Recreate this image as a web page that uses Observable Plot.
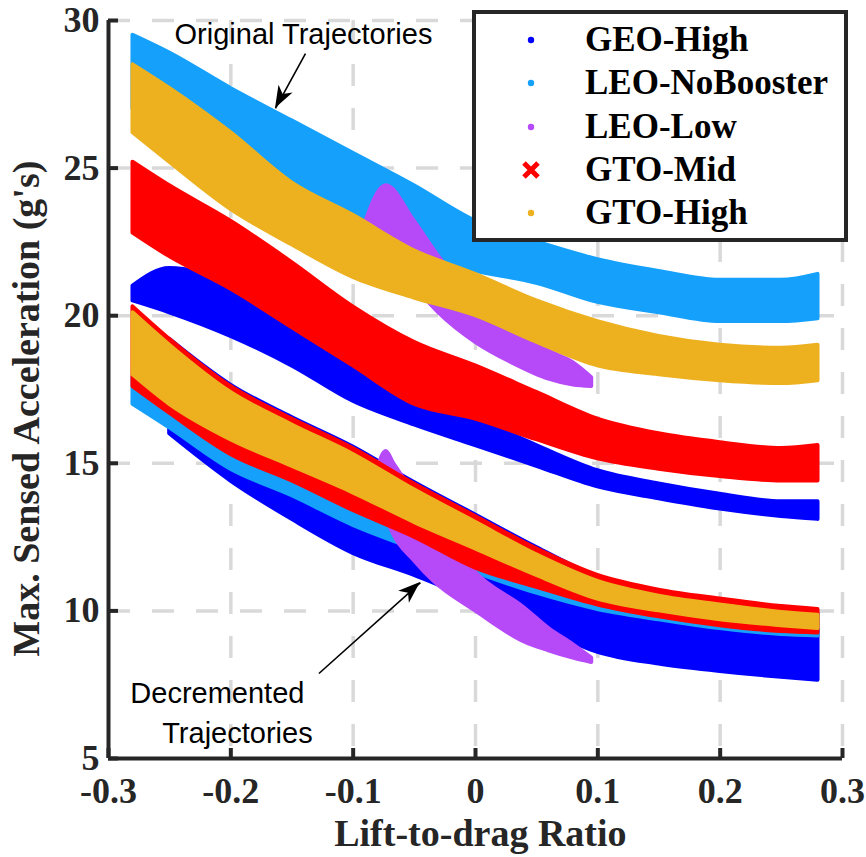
<!DOCTYPE html>
<html><head><meta charset="utf-8">
<script src="https://cdn.jsdelivr.net/npm/d3@7"></script>
<script src="https://cdn.jsdelivr.net/npm/@observablehq/plot@0.6"></script>
<style>
body{margin:0;background:#fff;}
#wrap{position:relative;width:866px;height:857px;overflow:hidden;}
#legend{position:absolute;left:472px;top:10px;width:376px;height:232px;box-sizing:border-box;border:4px solid #262626;background:#fff;
font-family:"Liberation Serif","Times New Roman",serif;font-weight:bold;font-size:35px;color:#000;}
.row{position:absolute;left:0;height:40px;line-height:40px;white-space:nowrap;}
.row svg{position:absolute;left:45px;top:10px;}
.row span{position:absolute;left:109px;top:0;}
</style></head>
<body><div id="wrap"><div id="legend"></div></div>
<script>
// ---------- data ----------
const seriesNames = ["GEO-High", "LEO-NoBooster", "LEO-Low", "GTO-Mid", "GTO-High"];
const seriesColors = ["#0000ff", "#15a1fb", "#b649f8", "#ff0000", "#edb120"];

const xTicks = [-0.3, -0.2, -0.1, 0, 0.1, 0.2, 0.3];
const yTicks = [5, 10, 15, 20, 25, 30];
const xGridLines = [-0.2, -0.1, 0, 0.1, 0.2, 0.3];
const yGridLines = [10, 15, 20, 25, 30];

// common L/D sample positions of the band envelopes
const ld = [-0.28, -0.25, -0.2, -0.15, -0.1, -0.05, 0, 0.05, 0.1, 0.15, 0.2, 0.25, 0.28];

// ----- original trajectories: lower / upper envelope of each point cloud -----
const geoOrigLo = [20.5, 20.1, 19.3, 18.3, 17.1, 16.3, 15.6, 14.9, 14.2, 13.8, 13.45, 13.2, 13.1];
const geoOrigHi = [21.0, 21.6, 21.1, 19.8, 18.4, 17.1, 16.5, 15.6, 14.75, 14.3, 13.95, 13.7, 13.7];
const leoNbOrigLo = [27.0, 26.2, 25.0, 23.6, 22.8, 22.0, 21.5, 21.1, 20.45, 20.1, 19.8, 19.8, 19.9];
const leoNbOrigHi = [29.5, 28.9, 27.7, 26.6, 25.5, 24.4, 23.2, 22.5, 21.9, 21.5, 21.2, 21.2, 21.4];
const gtoMidOrigLo = [22.8, 22.0, 20.9, 19.6, 18.3, 17.0, 16.5, 15.8, 15.15, 14.8, 14.55, 14.4, 14.4];
const gtoMidOrigHi = [25.2, 24.4, 23.2, 21.8, 20.3, 19.1, 18.3, 17.4, 16.5, 16.0, 15.7, 15.5, 15.6];
const gtoHighOrigLo = [26.2, 25.2, 23.6, 22.4, 21.3, 20.6, 20.0, 19.1, 18.3, 18.0, 17.8, 17.7, 17.8];
const gtoHighOrigHi = [28.5, 27.7, 26.2, 24.5, 23.4, 22.2, 21.4, 20.5, 19.8, 19.3, 19.0, 18.9, 19.0];

const ldLeoLowOrig = [-0.092, -0.073, -0.05, -0.03, 0, 0.03, 0.06, 0.08, 0.095];
const leoLowOrigLo = [22.7, 22.0, 21.0, 20.1, 19.1, 18.4, 17.85, 17.65, 17.6];
const leoLowOrigHi = [22.9, 24.4, 23.2, 22.0, 20.6, 19.6, 18.8, 18.4, 17.9];

// ----- decremented trajectories -----
const ldGeoDec = [-0.25, -0.2, -0.15, -0.1, -0.05, 0, 0.05, 0.1, 0.15, 0.2, 0.25, 0.28];
const geoDecLo = [16.0, 14.4, 13.1, 11.95, 11.2, 10.35, 9.5, 8.6, 8.2, 7.95, 7.75, 7.65];
const geoDecHi = [19.2, 17.65, 16.55, 15.55, 14.35, 13.25, 12.15, 11.15, 10.55, 10.25, 10.0, 9.9];
const leoNbDecLo = [17.0, 16.2, 14.8, 13.9, 12.9, 12.1, 11.3, 10.6, 10.05, 9.7, 9.4, 9.2, 9.15];
const leoNbDecHi = [17.9, 17.0, 15.6, 14.7, 13.7, 12.8, 11.9, 11.1, 10.5, 10.1, 9.8, 9.6, 9.55];
const gtoMidDecLo = [17.6, 16.7, 15.3, 14.4, 13.4, 12.5, 11.45, 10.8, 10.2, 9.8, 9.5, 9.3, 9.25];
const gtoMidDecHi = [20.3, 19.2, 17.6, 16.5, 15.5, 14.3, 13.2, 12.1, 11.2, 10.7, 10.4, 10.15, 10.05];
const gtoHighDecLo = [18.0, 17.0, 15.8, 14.9, 14.0, 13.0, 12.1, 11.2, 10.4, 10.0, 9.7, 9.5, 9.4];
const gtoHighDecHi = [20.1, 19.0, 17.4, 16.3, 15.3, 14.1, 13.0, 11.9, 11.0, 10.5, 10.2, 9.95, 9.85];

const ldLeoLowDec = [-0.08, -0.073, -0.067, -0.05, -0.034, 0, 0.04, 0.06, 0.08, 0.095];
const leoLowDecLo = [14.6, 13.2, 12.6, 11.7, 11.0, 10.0, 8.95, 8.65, 8.4, 8.25];
const leoLowDecHi = [14.8, 15.4, 15.0, 14.0, 13.2, 11.3, 10.1, 9.4, 8.85, 8.4];

// ----- annotations -----
const noteTexts = ["Original Trajectories", "Decremented", "Trajectories"];
const noteX = [-0.1406, -0.211, -0.1946];
const noteY = [29.53, 7.2, 5.85];
const arrowFromX = [-0.139, -0.128];
const arrowFromY = [28.88, 7.88];
const arrowToX = [-0.1635, -0.045];
const arrowToY = [27.02, 10.96];

const xTitle = "Lift-to-drag Ratio";
const yTitle = "Max. Sensed Acceleration (g's)";

// ---------- build ----------
const band = (xs, lo, hi) => xs.map((x, i) => ({x, lo: lo[i], hi: hi[i]}));
const area = (rows, c) => Plot.areaY(rows, {x: "x", y1: "lo", y2: "hi", fill: c, stroke: c, strokeWidth: 4,
  strokeLinejoin: "round", curve: "monotone-x"});

const [cGeo, cLeoNb, cLeoLow, cMid, cHigh] = seriesColors;
const arrows = arrowFromX.map((x, i) => ({x1: x, y1: arrowFromY[i], x2: arrowToX[i], y2: arrowToY[i]}));
const notes = noteTexts.map((t, i) => ({t, x: noteX[i], y: noteY[i]}));
const axisColor = "#262626";
const gridColor = "#d9d9d9";
const serif = "'Liberation Serif','Times New Roman',serif";

const chart = Plot.plot({
  width: 866, height: 857,
  marginLeft: 108, marginRight: 24, marginTop: 20, marginBottom: 99,
  style: {fontFamily: serif, fontWeight: "bold", fontSize: "36px", color: "#262626", background: "white", overflow: "visible"},
  x: {domain: [-0.3, 0.3], ticks: xTicks, tickSize: 0, tickPadding: 19, label: null,
      tickFormat: d => d === 0 ? "0" : (d < 0 ? "-" : "") + Math.abs(d).toFixed(1)},
  y: {domain: [5, 30], ticks: yTicks, tickSize: 0, tickPadding: 9, label: null, tickFormat: d => String(d)},
  marks: [
    Plot.ruleX(xGridLines, {stroke: gridColor, strokeWidth: 3.5, strokeDasharray: "22,22"}),
    Plot.ruleY(yGridLines, {stroke: gridColor, strokeWidth: 3.5, strokeDasharray: "22,22"}),
    // GEO-High
    area(band(ld, geoOrigLo, geoOrigHi), cGeo),
    area(band(ldGeoDec, geoDecLo, geoDecHi), cGeo),
    // LEO-NoBooster
    area(band(ld, leoNbOrigLo, leoNbOrigHi), cLeoNb),
    area(band(ld, leoNbDecLo, leoNbDecHi), cLeoNb),
    // LEO-Low
    area(band(ldLeoLowOrig, leoLowOrigLo, leoLowOrigHi), cLeoLow),
    area(band(ldLeoLowDec, leoLowDecLo, leoLowDecHi), cLeoLow),
    // GTO-Mid
    area(band(ld, gtoMidOrigLo, gtoMidOrigHi), cMid),
    area(band(ld, gtoMidDecLo, gtoMidDecHi), cMid),
    // GTO-High
    area(band(ld, gtoHighOrigLo, gtoHighOrigHi), cHigh),
    area(band(ld, gtoHighDecLo, gtoHighDecHi), cHigh),
    // axes lines and inward ticks
    Plot.ruleX([-0.3], {stroke: axisColor, strokeWidth: 4}),
    Plot.ruleY([5], {stroke: axisColor, strokeWidth: 4}),
    Plot.ruleY(yTicks, {y: d => d, x1: -0.3, x2: -0.3, insetRight: -10, stroke: axisColor, strokeWidth: 4}),
    Plot.ruleX(xTicks, {x: d => d, y1: 5, y2: 5, insetTop: -10, stroke: axisColor, strokeWidth: 4}),
    // annotations
    Plot.link(arrows, {x1: "x1", y1: "y1", x2: "x2", y2: "y2", stroke: "#000", strokeWidth: 1.6}),
    Plot.text(notes, {x: "x", y: "y", text: "t", textAnchor: "middle", fontFamily: "'Liberation Sans',Arial,sans-serif",
      fontWeight: "normal", fontSize: 29, fill: "#000"}),
    Plot.text([xTitle], {x: 0.004, y: 2.45, text: d => d, textAnchor: "middle", fontSize: 38, fill: "#262626"}),
    Plot.text([yTitle], {x: -0.367, y: 16.85, text: d => d, rotate: -90, textAnchor: "middle", fontSize: 38, fill: "#262626"})
  ]
});

// filled arrow heads, placed through the chart's scales
const sx = chart.scale("x"), sy = chart.scale("y");
const headG = d3.select(chart).append("g");
arrows.forEach(a => {
  const x1 = sx.apply(a.x1), y1 = sy.apply(a.y1), x2 = sx.apply(a.x2), y2 = sy.apply(a.y2);
  const len = Math.hypot(x2 - x1, y2 - y1), ux = (x2 - x1) / len, uy = (y2 - y1) / len;
  const nx = -uy, ny = ux, L = 22, W = 8, B = 6;
  const pts = [[x2, y2], [x2 - L * ux + W * nx, y2 - L * uy + W * ny], [x2 - (L - B) * ux, y2 - (L - B) * uy],
    [x2 - L * ux - W * nx, y2 - L * uy - W * ny]];
  headG.append("polygon").attr("points", pts.map(p => p.join(",")).join(" ")).attr("fill", "#000");
});

const wrap = document.getElementById("wrap");
wrap.insertBefore(chart, wrap.firstChild);

// legend (inside the axes, top right)
const legend = document.getElementById("legend");
const rowTops = [6, 49, 93, 136, 179];
seriesNames.forEach((name, i) => {
  const row = document.createElement("div");
  row.className = "row";
  row.style.top = rowTops[i] + "px";
  const mk = i === 3
    ? `<svg width="20" height="20"><path d="M3,3L17,17M17,3L3,17" stroke="${seriesColors[i]}" stroke-width="5"/></svg>`
    : `<svg width="20" height="20"><circle cx="10" cy="10" r="3.2" fill="${seriesColors[i]}"/></svg>`;
  row.innerHTML = mk + `<span>${name}</span>`;
  legend.appendChild(row);
});
</script></body></html>
